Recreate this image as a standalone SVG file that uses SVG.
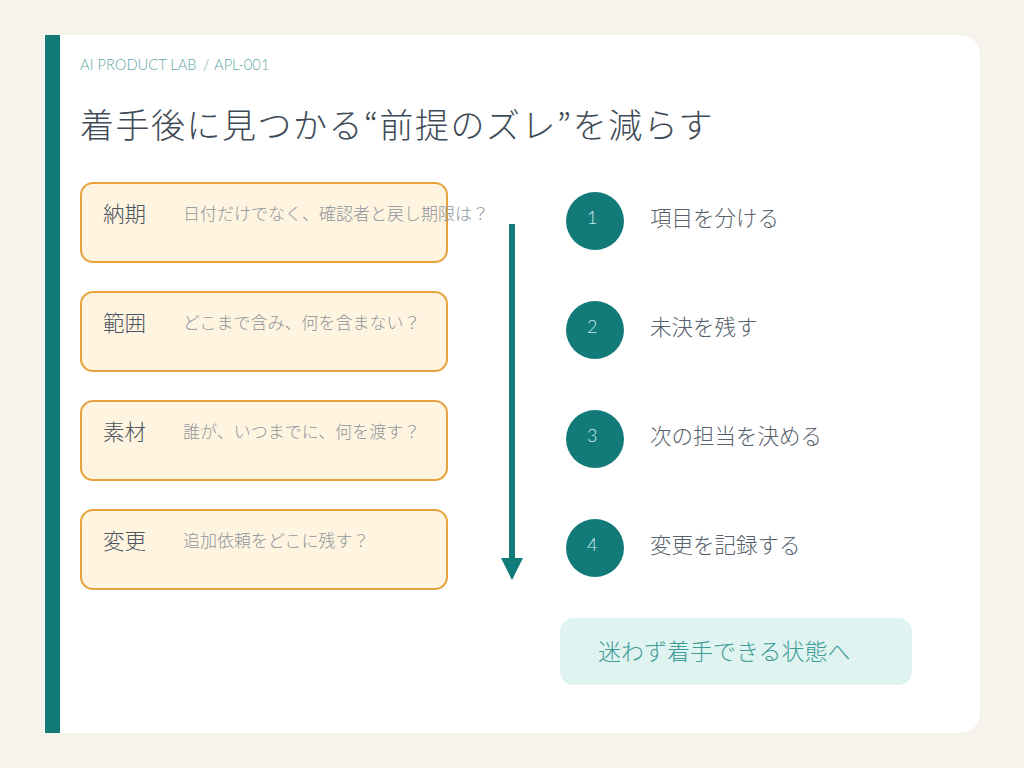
<svg xmlns="http://www.w3.org/2000/svg" width="1024" height="768" viewBox="0 0 1024 768">
<defs>
<style>
.jp{font-family:"Noto Sans CJK JP","Noto Sans",sans-serif;font-weight:300}
.box{fill:#fff4e0;stroke:#e8a23c;stroke-width:2}
.lbl{font-size:21.5px;fill:#4a5560}
.q{font-size:17px;fill:#8e959c}
.circ{fill:#137a7a}
.num{font-family:"Lato","Noto Sans",sans-serif;font-weight:300;font-size:18px;fill:#c6ecea}
.step{font-size:21.5px;fill:#56616b}
.hdr{font-family:Lato,"Noto Sans",sans-serif;font-weight:300;font-size:14.7px;fill:#5fa8a6}
</style>
<marker id="ah" viewBox="0 0 10 10" refX="5" refY="5" markerWidth="3.7" markerHeight="3.7" orient="auto" markerUnits="strokeWidth">
<path d="M0,0 L10,5 L0,10 z" fill="#137a7a"/>
</marker>
</defs>
<rect width="1024" height="768" fill="#f6f3ec"/>
<rect x="44" y="35" width="936" height="698" rx="20" fill="#ffffff"/>
<rect x="44" y="35" width="30" height="698" fill="#ffffff"/>
<rect x="45" y="35" width="15" height="698" fill="#137a7a"/>
<text class="hdr" x="80" y="70">AI PRODUCT LAB</text>
<text class="hdr" x="203" y="70">/</text>
<text class="hdr" x="214" y="70">APL-001</text>
<text x="80" y="138" class="jp" font-size="34" letter-spacing="1.5" fill="#3e4a56">着手後に見つかる“前提のズレ”を減らす</text>
<g id="connectors">
<line x1="512" y1="224" x2="512" y2="569" stroke="#137a7a" stroke-width="6" marker-end="url(#ah)"/>
</g>
<g id="item1"><rect class="box" x="81" y="183" width="366" height="79" rx="12"/><text class="jp lbl" x="103" y="222">納期</text><text class="jp q" x="183" y="220">日付だけでなく、確認者と戻し期限は？</text></g>
<g id="item2"><rect class="box" x="81" y="292" width="366" height="79" rx="12"/><text class="jp lbl" x="103" y="331">範囲</text><text class="jp q" x="183" y="329">どこまで含み、何を含まない？</text></g>
<g id="item3"><rect class="box" x="81" y="401" width="366" height="79" rx="12"/><text class="jp lbl" x="103" y="440">素材</text><text class="jp q" x="183" y="438">誰が、いつまでに、何を渡す？</text></g>
<g id="item4"><rect class="box" x="81" y="510" width="366" height="79" rx="12"/><text class="jp lbl" x="103" y="549">変更</text><text class="jp q" x="183" y="547">追加依頼をどこに残す？</text></g>
<g id="step1"><circle class="circ" cx="595" cy="221" r="29"/><text class="num" x="587" y="224">1</text><text class="jp step" x="650" y="226">項目を分ける</text></g>
<g id="step2"><circle class="circ" cx="595" cy="330" r="29"/><text class="num" x="587" y="333">2</text><text class="jp step" x="650" y="335">未決を残す</text></g>
<g id="step3"><circle class="circ" cx="595" cy="439" r="29"/><text class="num" x="587" y="442">3</text><text class="jp step" x="650" y="444">次の担当を決める</text></g>
<g id="step4"><circle class="circ" cx="595" cy="548" r="29"/><text class="num" x="587" y="551">4</text><text class="jp step" x="650" y="553">変更を記録する</text></g>
<g id="result"><rect x="560" y="618" width="352" height="67" rx="14" fill="#dff3f0"/><text class="jp" x="598" y="660" font-size="23" fill="#3f9c98">迷わず着手できる状態へ</text></g>
</svg>
